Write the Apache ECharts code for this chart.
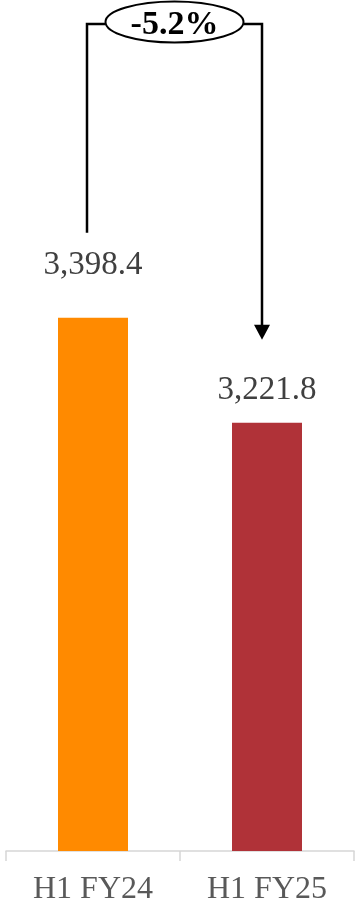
<!DOCTYPE html>
<html>
<head>
<meta charset="utf-8">
<script src="https://cdn.jsdelivr.net/npm/echarts@6/dist/echarts.min.js"></script>
<style>
  html, body { margin: 0; padding: 0; background: #fff; }
  #chart { width: 359px; height: 908px; }
</style>
</head>
<body>
<div id="chart"></div>
<script>
// Half-year totals
const categories = ['H1 FY24', 'H1 FY25'];
const values = [3398.4, 3221.8];
const barColors = ['#FF8A00', '#B03238'];
const labelGaps = [36, 16];

const chart = echarts.init(document.getElementById('chart'));
const serif = '"Liberation Serif", "DejaVu Serif", serif';

function fmt(v) {
  return v.toLocaleString('en-US', { minimumFractionDigits: 1, maximumFractionDigits: 1 });
}

chart.setOption({
  animation: false,
  grid: { left: 6, right: 5, top: 0, bottom: 57 },
  xAxis: {
    type: 'category',
    data: categories,
    axisLine: { lineStyle: { color: '#D6D6D6', width: 1.5 } },
    axisTick: { show: true, length: 10, lineStyle: { color: '#D6D6D6', width: 1.5 } },
    axisLabel: { color: '#595959', fontFamily: serif, fontSize: 32, margin: 23 }
  },
  yAxis: {
    type: 'value',
    min: 2500,
    max: 3934,
    show: false,
    splitLine: { show: false }
  },
  series: [{
    type: 'bar',
    barWidth: 70,
    data: values.map((v, i) => ({
      value: v,
      itemStyle: { color: barColors[i] },
      label: {
        show: true,
        position: 'top',
        distance: labelGaps[i],
        formatter: () => fmt(v),
        color: '#404040',
        fontFamily: serif,
        fontSize: 33
      }
    }))
  }]
});

// Change bracket: from above the first bar to an arrow above the second bar
const p0 = chart.convertToPixel({ seriesIndex: 0 }, [0, values[0]]);
const p1 = chart.convertToPixel({ seriesIndex: 0 }, [1, values[1]]);
const lx = p0[0] - 6;
const rx = p1[0] - 5;
const topY = 24;
const leftEnd = p0[1] - 85;
const rightEnd = p1[1] - 83;
const midX = (lx + rx) / 2;
const change = (values[1] - values[0]) / values[0] * 100;
const stroke = { stroke: '#000', lineWidth: 2.5, fill: null };

chart.setOption({
  graphic: [
    { type: 'polyline', shape: { points: [[lx, leftEnd], [lx, topY], [midX - 69, topY]] }, style: stroke },
    { type: 'polyline', shape: { points: [[midX + 69, topY], [rx, topY], [rx, rightEnd - 14]] }, style: stroke },
    { type: 'polygon', shape: { points: [[rx - 8, rightEnd - 15], [rx + 8, rightEnd - 15], [rx, rightEnd]] }, style: { fill: '#000' } },
    { type: 'ellipse', shape: { cx: midX, cy: 22, rx: 69, ry: 20.5 }, style: { stroke: '#000', lineWidth: 2, fill: '#fff' } },
    {
      type: 'text',
      x: midX, y: 25,
      style: {
        text: change.toFixed(1) + '%',
        fill: '#000',
        font: 'bold 34px ' + serif,
        textAlign: 'center',
        textVerticalAlign: 'middle'
      }
    }
  ]
});
</script>
</body>
</html>
